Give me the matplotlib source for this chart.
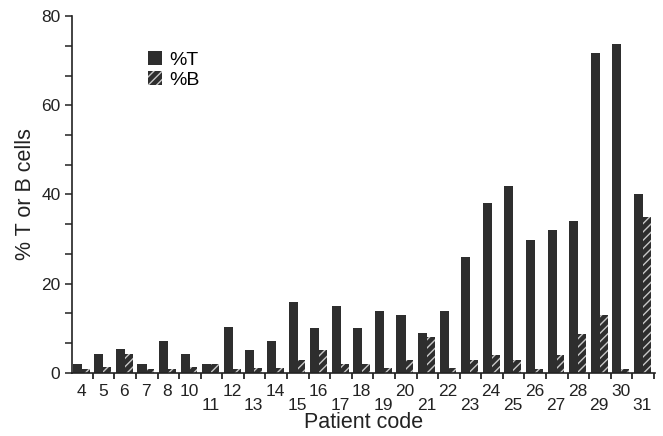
import numpy as np
import matplotlib
matplotlib.use("Agg")
import matplotlib.pyplot as plt
from matplotlib.ticker import MultipleLocator, FixedLocator
from matplotlib.patches import Patch

# patient codes and percentages
patients = [4, 5, 6, 7, 8, 10, 11, 12, 13, 14, 15, 16, 17, 18, 19, 20, 21,
            22, 23, 24, 25, 26, 27, 28, 29, 30, 31]
pct_t = [2, 4.3, 5.3, 2, 7.1, 4.3, 2, 10.2, 5.2, 7.1, 15.8, 10.1, 14.9, 10.1,
         13.9, 13, 8.9, 13.9, 26, 38, 41.8, 29.8, 32, 34, 71.8, 73.8, 40]
pct_b = [0.9, 1.2, 4.3, 0.9, 0.9, 1.2, 2, 0.9, 1.1, 1.1, 2.9, 5, 1.9, 1.9,
         1, 2.8, 8, 1, 2.8, 4.1, 2.8, 0.8, 4.1, 8.8, 12.9, 0.8, 35]

dark = '#2e2e2e'
plt.rcParams['font.family'] = ['Liberation Sans', 'DejaVu Sans']
plt.rcParams['hatch.linewidth'] = 1.0

fig = plt.figure(figsize=(6.63, 4.36), dpi=100)
ax = fig.add_axes([0.109, 0.145, 0.879, 0.818])

x = np.arange(len(patients))
w_t = 0.42
w_b = 0.36
ax.bar(x + 0.02, pct_t, width=w_t, align='edge', color=dark, linewidth=0)
ax.bar(x + 0.02 + w_t, pct_b, width=w_b, align='edge', color=dark,
       edgecolor='#c8c8c8', hatch='////', linewidth=0)

ax.set_xlim(0, len(patients))
ax.set_ylim(0, 80)

ax.spines['top'].set_visible(False)
ax.spines['right'].set_visible(False)
for s in ('left', 'bottom'):
    ax.spines[s].set_linewidth(1.2)
    ax.spines[s].set_color('#222222')

ax.yaxis.set_major_locator(MultipleLocator(20))
ax.yaxis.set_minor_locator(MultipleLocator(20 / 3))
ax.tick_params(axis='y', which='both', direction='out', length=5, width=1.1,
               labelsize=12.5, colors='#222222')

labels = [str(p) if (p <= 10 or p % 2 == 0) else '\n' + str(p) for p in patients]
ax.set_xticks(x + 0.41)
ax.set_xticklabels(labels, fontsize=12.5, color='#222222', linespacing=0.92)
ax.tick_params(axis='x', which='major', length=0, pad=8)
ax.xaxis.set_minor_locator(FixedLocator(x + 0.95))
ax.tick_params(axis='x', which='minor', direction='out', length=4, width=1.1)

ax.set_xlabel('Patient code', fontsize=15.5, labelpad=-1, color='#222222')
ax.set_ylabel('% T or B cells', fontsize=15.5, labelpad=4, color='#222222')

handles = [Patch(facecolor=dark, linewidth=0),
           Patch(facecolor=dark, edgecolor='#c8c8c8', hatch='////', linewidth=0)]
ax.legend(handles, ['%T', '%B'], loc='upper left', bbox_to_anchor=(0.113, 0.93),
          frameon=False, fontsize=14, handlelength=0.75, handleheight=0.75,
          handletextpad=0.35, labelspacing=0.1, borderpad=0)

fig.savefig('out.png', dpi=100)
